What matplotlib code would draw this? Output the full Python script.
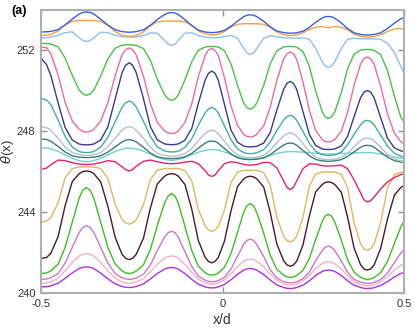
import matplotlib
matplotlib.use("Agg")
import matplotlib.pyplot as plt

x_pos = [-0.500, -0.485, -0.473, -0.453, -0.434, -0.414, -0.395, -0.385, -0.375,
         -0.365, -0.355, -0.336, -0.316, -0.296, -0.277, -0.267, -0.257,
         -0.248, -0.238, -0.218, -0.199, -0.180, -0.160, -0.150, -0.141,
         -0.131, -0.122, -0.104, -0.085, -0.067, -0.048, -0.039, -0.030,
         -0.021, -0.012, 0.005, 0.023, 0.041, 0.058, 0.067, 0.076,
         0.085, 0.094, 0.113, 0.131, 0.149, 0.168, 0.177, 0.186,
         0.195, 0.204, 0.221, 0.239, 0.256, 0.274, 0.282, 0.291,
         0.300, 0.309, 0.327, 0.344, 0.362, 0.380, 0.389, 0.398,
         0.408, 0.417, 0.435, 0.454, 0.473, 0.491, 0.500]

blue = [252.91, 252.92, 252.94, 253.03, 253.26, 253.55, 253.80, 253.88, 253.90,
        253.88, 253.80, 253.55, 253.25, 253.02, 252.93, 252.91, 252.90,
        252.91, 252.93, 253.02, 253.24, 253.53, 253.77, 253.85, 253.87,
        253.85, 253.77, 253.52, 253.23, 253.00, 252.91, 252.89, 252.88,
        252.89, 252.91, 252.99, 253.19, 253.45, 253.67, 253.74, 253.76,
        253.74, 253.67, 253.44, 253.17, 252.96, 252.88, 252.86, 252.85,
        252.86, 252.87, 252.95, 253.14, 253.39, 253.60, 253.66, 253.68,
        253.66, 253.59, 253.36, 253.08, 252.87, 252.79, 252.77, 252.76,
        252.77, 252.79, 252.87, 253.08, 253.35, 253.57, 253.62]

orange = [252.74, 252.75, 252.79, 252.96, 253.26, 253.44, 253.48, 253.48, 253.48,
          253.48, 253.48, 253.44, 253.24, 252.93, 252.75, 252.71, 252.69,
          252.70, 252.74, 252.92, 253.22, 253.41, 253.45, 253.45, 253.45,
          253.45, 253.45, 253.42, 253.25, 252.97, 252.82, 252.78, 252.77,
          252.78, 252.81, 252.94, 253.16, 253.29, 253.32, 253.32, 253.32,
          253.32, 253.32, 253.29, 253.15, 252.91, 252.78, 252.75, 252.74,
          252.75, 252.77, 252.87, 253.04, 253.15, 253.18, 253.15, 253.12,
          253.15, 253.18, 253.15, 253.02, 252.81, 252.70, 252.67, 252.66,
          252.67, 252.69, 252.78, 252.94, 253.06, 253.08, 253.04]

light_blue = [252.62, 252.63, 252.66, 252.75, 252.88, 252.92, 252.63, 252.49, 252.44,
              252.49, 252.62, 252.90, 252.88, 252.75, 252.68, 252.67, 252.66,
              252.66, 252.66, 252.74, 252.87, 252.85, 252.50, 252.31, 252.25,
              252.31, 252.50, 252.85, 252.87, 252.74, 252.66, 252.64, 252.63,
              252.63, 252.63, 252.68, 252.74, 252.60, 252.10, 251.88, 251.80,
              251.88, 252.10, 252.60, 252.72, 252.67, 252.63, 252.62, 252.62,
              252.61, 252.61, 252.62, 252.55, 252.10, 251.45, 251.23, 251.16,
              251.23, 251.45, 252.10, 252.55, 252.60, 252.58, 252.57, 252.57,
              252.57, 252.57, 252.55, 252.35, 251.90, 251.20, 250.87]

green_top = [252.35, 252.34, 252.32, 252.17, 251.63, 250.76, 250.04, 249.85, 249.78,
             249.84, 250.03, 250.73, 251.58, 252.11, 252.26, 252.28, 252.28,
             252.27, 252.25, 252.09, 251.51, 250.58, 249.81, 249.60, 249.53,
             249.60, 249.80, 250.54, 251.45, 252.01, 252.17, 252.19, 252.20,
             252.19, 252.17, 251.98, 251.33, 250.27, 249.40, 249.17, 249.09,
             249.17, 249.40, 250.27, 251.33, 251.98, 252.17, 252.19, 252.20,
             252.19, 252.16, 251.95, 251.20, 249.99, 248.99, 248.72, 248.63,
             248.72, 248.97, 249.93, 251.09, 251.81, 252.02, 252.04, 252.05,
             252.04, 252.01, 251.79, 251.00, 249.73, 248.68, 248.45]

pink = [252.16, 252.14, 251.83, 250.78, 249.44, 248.51, 248.10, 248.00, 247.97,
        248.00, 248.09, 248.51, 249.42, 250.75, 251.79, 252.04, 252.12,
        252.04, 251.78, 250.72, 249.37, 248.44, 248.02, 247.92, 247.89,
        247.92, 248.02, 248.44, 249.36, 250.71, 251.76, 252.02, 252.10,
        252.01, 251.75, 250.65, 249.25, 248.29, 247.85, 247.75, 247.72,
        247.75, 247.85, 248.27, 249.19, 250.51, 251.58, 251.84, 251.92,
        251.83, 251.56, 250.45, 249.03, 248.05, 247.60, 247.50, 247.47,
        247.50, 247.60, 248.02, 248.94, 250.28, 251.33, 251.59, 251.67,
        251.58, 251.32, 250.24, 248.86, 247.91, 247.48, 247.38]

navy = [251.62, 251.30, 250.75, 249.40, 248.20, 247.57, 247.37, 247.34, 247.33,
        247.34, 247.37, 247.57, 248.22, 249.60, 250.90, 251.27, 251.39,
        251.27, 250.90, 249.61, 248.23, 247.58, 247.38, 247.35, 247.34,
        247.35, 247.38, 247.56, 248.14, 249.38, 250.54, 250.87, 250.98,
        250.87, 250.53, 249.33, 248.06, 247.46, 247.27, 247.24, 247.23,
        247.24, 247.26, 247.42, 247.94, 249.04, 250.08, 250.37, 250.47,
        250.37, 250.07, 248.99, 247.84, 247.30, 247.13, 247.11, 247.10,
        247.11, 247.13, 247.28, 247.74, 248.73, 249.67, 249.93, 250.02,
        249.93, 249.66, 248.69, 247.66, 247.18, 247.03, 247.00]

teal = [249.63, 249.55, 249.31, 248.56, 247.75, 247.22, 247.00, 246.96, 246.95,
        246.96, 247.00, 247.21, 247.71, 248.48, 249.19, 249.42, 249.50,
        249.42, 249.20, 248.49, 247.74, 247.23, 247.03, 246.99, 246.98,
        246.99, 247.02, 247.20, 247.64, 248.30, 248.92, 249.11, 249.18,
        249.11, 248.91, 248.27, 247.58, 247.13, 246.95, 246.91, 246.90,
        246.91, 246.94, 247.09, 247.47, 248.03, 248.56, 248.73, 248.79,
        248.73, 248.55, 248.00, 247.40, 247.01, 246.85, 246.82, 246.81,
        246.82, 246.84, 246.98, 247.33, 247.85, 248.33, 248.49, 248.54,
        248.49, 248.32, 247.81, 247.27, 246.91, 246.77, 246.74]

gray = [248.22, 248.18, 248.05, 247.66, 247.23, 246.95, 246.84, 246.82, 246.81,
        246.82, 246.84, 246.95, 247.24, 247.66, 248.06, 248.19, 248.23,
        248.19, 248.05, 247.65, 247.21, 246.92, 246.80, 246.78, 246.77,
        246.78, 246.80, 246.90, 247.15, 247.54, 247.90, 248.01, 248.05,
        248.01, 247.89, 247.51, 247.11, 246.83, 246.73, 246.71, 246.70,
        246.71, 246.72, 246.82, 247.07, 247.43, 247.77, 247.88, 247.92,
        247.88, 247.76, 247.39, 246.99, 246.73, 246.63, 246.61, 246.60,
        246.61, 246.62, 246.71, 246.92, 247.24, 247.54, 247.64, 247.67,
        247.64, 247.53, 247.21, 246.87, 246.64, 246.54, 246.53]

dark_teal = [247.62, 247.60, 247.51, 247.25, 246.98, 246.79, 246.72, 246.71, 246.70,
             246.71, 246.72, 246.79, 246.97, 247.23, 247.48, 247.56, 247.59,
             247.56, 247.48, 247.21, 246.93, 246.74, 246.67, 246.66, 246.65,
             246.66, 246.67, 246.74, 246.91, 247.17, 247.42, 247.50, 247.52,
             247.50, 247.41, 247.15, 246.88, 246.69, 246.62, 246.61, 246.60,
             246.61, 246.62, 246.68, 246.85, 247.09, 247.32, 247.40, 247.42,
             247.40, 247.31, 247.06, 246.79, 246.61, 246.54, 246.53, 246.52,
             246.53, 246.54, 246.60, 246.76, 246.99, 247.21, 247.29, 247.31,
             247.29, 247.21, 246.97, 246.72, 246.55, 246.48, 246.47]

cyan = [247.18, 247.17, 247.13, 247.01, 246.84, 246.67, 246.55, 246.51, 246.50,
        246.51, 246.55, 246.67, 246.84, 247.00, 247.12, 247.16, 247.17,
        247.16, 247.13, 247.02, 246.87, 246.72, 246.61, 246.58, 246.57,
        246.58, 246.61, 246.70, 246.84, 246.97, 247.06, 247.09, 247.10,
        247.09, 247.07, 246.98, 246.86, 246.74, 246.65, 246.63, 246.62,
        246.63, 246.65, 246.72, 246.81, 246.91, 246.97, 246.99, 247.00,
        247.00, 246.99, 246.97, 246.94, 246.91, 246.89, 246.88, 246.88,
        246.88, 246.88, 246.90, 246.92, 246.93, 246.95, 246.95, 246.95,
        246.95, 246.93, 246.88, 246.80, 246.73, 246.67, 246.66]

crimson = [246.12, 246.18, 246.35, 246.58, 246.55, 246.45, 246.38, 246.37, 246.36,
           246.37, 246.38, 246.45, 246.55, 246.50, 246.25, 246.10, 246.04,
           246.10, 246.28, 246.52, 246.58, 246.50, 246.42, 246.41, 246.40,
           246.41, 246.42, 246.48, 246.52, 246.40, 246.05, 245.84, 245.77,
           245.84, 246.05, 246.40, 246.50, 246.45, 246.36, 246.34, 246.33,
           246.34, 246.36, 246.47, 246.45, 246.20, 245.55, 245.23, 245.12,
           245.23, 245.55, 246.15, 246.40, 246.38, 246.30, 246.29, 246.28,
           246.29, 246.30, 246.33, 246.15, 245.60, 244.95, 244.62, 244.51,
           244.57, 244.75, 245.15, 245.50, 245.72, 245.86, 245.91]

tan = [243.52, 243.56, 243.74, 244.47, 245.70, 246.16, 246.24, 246.24, 246.24,
       246.24, 246.24, 246.16, 245.67, 244.40, 243.64, 243.47, 243.41,
       243.47, 243.63, 244.37, 245.61, 246.08, 246.16, 246.16, 246.16,
       246.16, 246.16, 246.07, 245.54, 244.15, 243.31, 243.12, 243.06,
       243.12, 243.30, 244.11, 245.47, 245.98, 246.07, 246.07, 246.07,
       246.07, 246.07, 245.96, 245.36, 243.77, 242.81, 242.60, 242.53,
       242.60, 242.81, 243.74, 245.30, 245.89, 245.99, 245.99, 245.99,
       245.99, 245.99, 245.87, 245.22, 243.47, 242.43, 242.20, 242.12,
       242.20, 242.43, 243.47, 245.21, 245.86, 245.98, 245.98]

maroon = [241.72, 241.76, 241.98, 242.80, 244.31, 245.52, 245.91, 246.01, 246.04,
          246.01, 245.91, 245.51, 244.29, 242.76, 241.92, 241.72, 241.66,
          241.72, 241.92, 242.72, 244.21, 245.40, 245.78, 245.88, 245.91,
          245.88, 245.78, 245.38, 244.15, 242.60, 241.76, 241.57, 241.50,
          241.57, 241.76, 242.57, 244.07, 245.27, 245.65, 245.75, 245.78,
          245.75, 245.65, 245.25, 244.00, 242.44, 241.60, 241.40, 241.33,
          241.39, 241.58, 242.37, 243.83, 245.00, 245.37, 245.47, 245.50,
          245.47, 245.37, 244.98, 243.76, 242.23, 241.40, 241.20, 241.14,
          241.20, 241.39, 242.20, 243.67, 244.85, 245.23, 245.33]

green = [240.97, 241.00, 241.10, 241.44, 242.25, 243.52, 244.71, 245.09, 245.22,
         245.09, 244.71, 243.52, 242.25, 241.44, 241.10, 241.00, 240.97,
         241.00, 241.09, 241.40, 242.16, 243.34, 244.45, 244.80, 244.92,
         244.80, 244.44, 243.31, 242.10, 241.33, 241.01, 240.92, 240.89,
         240.92, 240.99, 241.28, 241.95, 243.01, 244.01, 244.33, 244.43,
         244.32, 243.99, 242.97, 241.88, 241.18, 240.89, 240.81, 240.78,
         240.80, 240.87, 241.12, 241.72, 242.65, 243.53, 243.81, 243.90,
         243.80, 243.51, 242.61, 241.65, 241.03, 240.78, 240.71, 240.68,
         240.70, 240.77, 241.01, 241.57, 242.46, 243.29, 243.56]

orchid = [240.68, 240.70, 240.76, 240.97, 241.48, 242.27, 243.01, 243.25, 243.33,
          243.25, 243.01, 242.27, 241.48, 240.97, 240.76, 240.70, 240.68,
          240.70, 240.75, 240.94, 241.39, 242.11, 242.77, 242.99, 243.06,
          242.99, 242.76, 242.06, 241.31, 240.84, 240.64, 240.58, 240.56,
          240.58, 240.62, 240.79, 241.19, 241.83, 242.42, 242.61, 242.67,
          242.61, 242.41, 241.81, 241.16, 240.75, 240.57, 240.53, 240.51,
          240.52, 240.56, 240.71, 241.05, 241.60, 242.10, 242.27, 242.32,
          242.27, 242.10, 241.58, 241.03, 240.68, 240.54, 240.50, 240.48,
          240.49, 240.53, 240.67, 241.00, 241.51, 241.99, 242.15]

light_pink = [240.48, 240.50, 240.55, 240.75, 241.10, 241.52, 241.84, 241.93, 241.96,
              241.93, 241.84, 241.52, 241.10, 240.75, 240.55, 240.50, 240.48,
              240.50, 240.55, 240.72, 241.05, 241.43, 241.73, 241.81, 241.84,
              241.81, 241.73, 241.42, 241.03, 240.69, 240.51, 240.46, 240.44,
              240.46, 240.50, 240.66, 240.96, 241.31, 241.58, 241.66, 241.68,
              241.66, 241.58, 241.30, 240.94, 240.63, 240.46, 240.42, 240.40,
              240.42, 240.46, 240.61, 240.88, 241.21, 241.46, 241.53, 241.55,
              241.53, 241.45, 241.19, 240.86, 240.57, 240.42, 240.38, 240.36,
              240.38, 240.42, 240.56, 240.83, 241.14, 241.38, 241.43]

purple = [240.31, 240.32, 240.36, 240.49, 240.73, 241.00, 241.22, 241.28, 241.30,
          241.28, 241.22, 240.99, 240.71, 240.46, 240.33, 240.29, 240.28,
          240.29, 240.33, 240.46, 240.70, 240.97, 241.19, 241.25, 241.27,
          241.25, 241.19, 240.97, 240.68, 240.44, 240.31, 240.27, 240.26,
          240.27, 240.31, 240.43, 240.66, 240.93, 241.14, 241.20, 241.22,
          241.20, 241.14, 240.92, 240.65, 240.41, 240.28, 240.24, 240.23,
          240.24, 240.28, 240.39, 240.61, 240.87, 241.07, 241.12, 241.14,
          241.12, 241.07, 240.87, 240.61, 240.39, 240.28, 240.24, 240.23,
          240.24, 240.27, 240.38, 240.57, 240.80, 240.98, 241.01]

curves = [
    (purple, "#b030e8"),
    (light_pink, "#f5b0c8"),
    (orchid, "#c878c8"),
    (green, "#3cc020"),
    (maroon, "#4a1a2a"),
    (tan, "#e0b860"),
    (crimson, "#f0206a"),
    (cyan, "#70d0d8"),
    (dark_teal, "#3a8070"),
    (gray, "#b8c0c8"),
    (teal, "#40b0a0"),
    (navy, "#3a3a90"),
    (pink, "#f06aa0"),
    (green_top, "#44c444"),
    (light_blue, "#8ec0f0"),
    (orange, "#f5a040"),
    (blue, "#3a5fe0"),
]

plt.rcParams["font.family"] = ["Liberation Sans", "DejaVu Sans"]
plt.rcParams["axes.unicode_minus"] = False

fig = plt.figure(figsize=(4.15, 3.32), dpi=100)
ax = fig.add_axes([0.099, 0.117, 0.875, 0.853])

for ys, col in curves:
    ax.plot(x_pos, ys, color=col, lw=1.0)

ax.set_xlim(-0.5, 0.5)
ax.set_ylim(240, 254)
ax.set_xticks([-0.5, 0, 0.5])
ax.set_xticklabels(["-0.5", "0", "0.5"])
ax.set_yticks([240, 244, 248, 252])
ax.tick_params(direction="in", top=True, right=True, length=4, width=1,
               color="#909090", labelsize=8, labelcolor="#333333", pad=4)
for sp in ax.spines.values():
    sp.set_color("#b0b0b0")
    sp.set_linewidth(1.5)

ax.set_xlabel("x/d", fontsize=10, color="#333333", labelpad=3)
ax.set_ylabel(r"$\theta$(x)", fontsize=9.5, color="#333333")
ax.yaxis.set_label_coords(-0.07, 0.5)
fig.text(0.028, 0.985, "(a)", fontsize=9, fontweight="bold", va="top", ha="left")

fig.savefig("out.png", dpi=100)
